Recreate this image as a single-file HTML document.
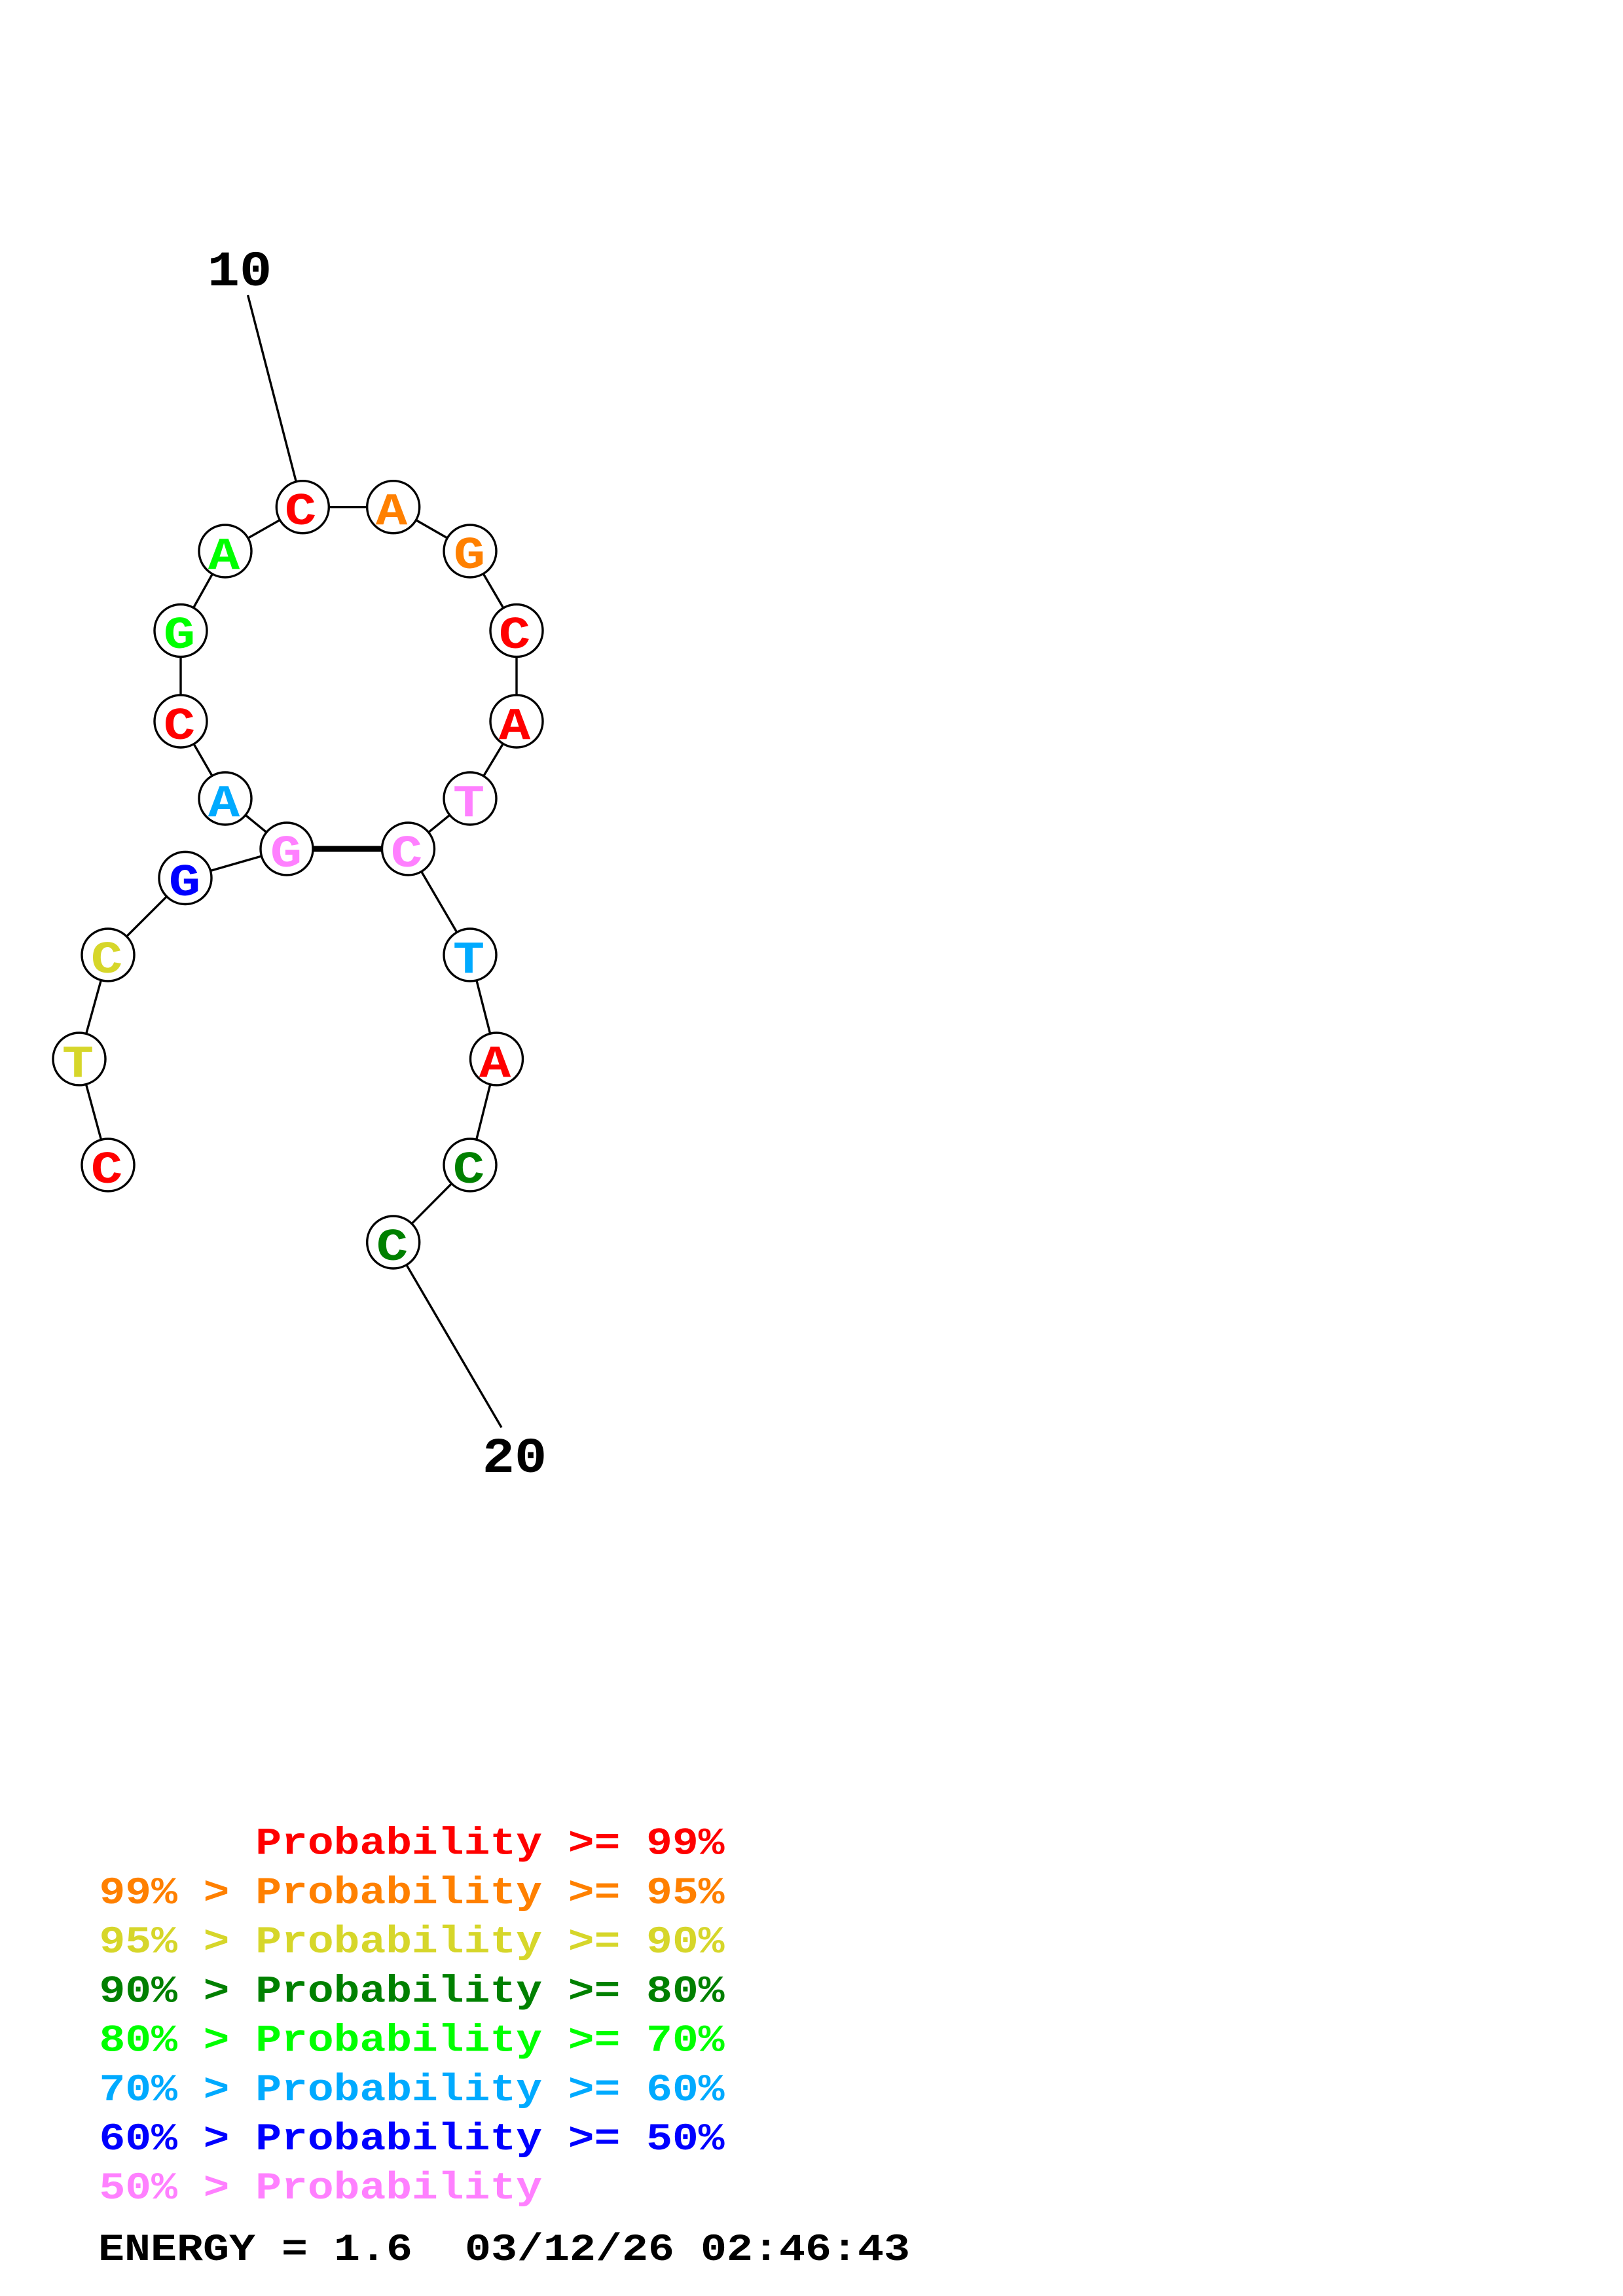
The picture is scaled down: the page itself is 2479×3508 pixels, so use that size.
<!DOCTYPE html>
<html>
<head>
<meta charset="utf-8">
<style>
html,body{margin:0;padding:0;background:#fff}
svg{display:block}
text{font-family:"Liberation Mono",monospace;font-weight:bold}
.n{font-size:70px;text-anchor:middle}
.l{font-size:67px;white-space:pre}
.d{font-size:82px;text-anchor:middle;fill:#000}
</style>
</head>
<body>
<svg xmlns="http://www.w3.org/2000/svg" width="2479" height="3508" viewBox="0 0 2479 3508">
<rect width="2479" height="3508" fill="#fff"/>
<g stroke="#000" stroke-width="3.4" fill="none">
<line x1="378.6" y1="451" x2="462.3" y2="774.7"/>
<polyline points="462.3,774.7 600.7,774.7 718,842 789,963.5 789,1102 718,1220 623.5,1297 718,1459 758.5,1618 718,1780 600.7,1898 766,2181"/>
<polyline points="462.3,774.7 344,842 276,963.5 276,1102 344,1220 438,1297 283,1341.5 165,1459 121,1618 165,1780"/>
<line x1="438" y1="1297" x2="623.5" y2="1297" stroke-width="9"/>
</g>
<g fill="#fff" stroke="#000" stroke-width="3.4">
<circle cx="462.3" cy="774.7" r="40"/><circle cx="600.7" cy="774.7" r="40"/><circle cx="718" cy="842" r="40"/>
<circle cx="789" cy="963.5" r="40"/><circle cx="789" cy="1102" r="40"/><circle cx="718" cy="1220" r="40"/>
<circle cx="623.5" cy="1297" r="40"/><circle cx="718" cy="1459" r="40"/><circle cx="758.5" cy="1618" r="40"/>
<circle cx="718" cy="1780" r="40"/><circle cx="600.7" cy="1898" r="40"/><circle cx="344" cy="842" r="40"/>
<circle cx="276" cy="963.5" r="40"/><circle cx="276" cy="1102" r="40"/><circle cx="344" cy="1220" r="40"/>
<circle cx="438" cy="1297" r="40"/><circle cx="283" cy="1341.5" r="40"/><circle cx="165" cy="1459" r="40"/>
<circle cx="121" cy="1618" r="40"/><circle cx="165" cy="1780" r="40"/>
</g>
<g class="nodes">
<text class="n" fill="#ff0000" transform="translate(459,801) scale(1.15,1)">C</text>
<text class="n" fill="#ff8000" transform="translate(598,801) scale(1.15,1)">A</text>
<text class="n" fill="#ff8000" transform="translate(717,868) scale(1.15,1)">G</text>
<text class="n" fill="#ff0000" transform="translate(786,990) scale(1.15,1)">C</text>
<text class="n" fill="#ff0000" transform="translate(786,1129) scale(1.15,1)">A</text>
<text class="n" fill="#ff80ff" transform="translate(716,1247) scale(1.15,1)">T</text>
<text class="n" fill="#ff80ff" transform="translate(621,1324) scale(1.15,1)">C</text>
<text class="n" fill="#00aaff" transform="translate(716,1486) scale(1.15,1)">T</text>
<text class="n" fill="#ff0000" transform="translate(756,1645) scale(1.15,1)">A</text>
<text class="n" fill="#008000" transform="translate(716,1807) scale(1.15,1)">C</text>
<text class="n" fill="#008000" transform="translate(599,1925) scale(1.15,1)">C</text>
<text class="n" fill="#00ff00" transform="translate(342,869) scale(1.15,1)">A</text>
<text class="n" fill="#00ff00" transform="translate(274,990) scale(1.15,1)">G</text>
<text class="n" fill="#ff0000" transform="translate(274,1129) scale(1.15,1)">C</text>
<text class="n" fill="#00aaff" transform="translate(342,1247) scale(1.15,1)">A</text>
<text class="n" fill="#ff80ff" transform="translate(437,1324) scale(1.15,1)">G</text>
<text class="n" fill="#0000ff" transform="translate(282,1368) scale(1.15,1)">G</text>
<text class="n" fill="#d6d62a" transform="translate(163,1486) scale(1.15,1)">C</text>
<text class="n" fill="#d6d62a" transform="translate(119,1645) scale(1.15,1)">T</text>
<text class="n" fill="#ff0000" transform="translate(163,1807) scale(1.15,1)">C</text>
</g>
<text class="d" transform="translate(366,436) scale(1,.93)">10</text>
<text class="d" transform="translate(786,2249) scale(1,.93)">20</text>
<g>
<text class="l" xml:space="preserve" fill="#ff0000" transform="translate(151.5,2832.7) scale(.99,.87)">      Probability &gt;= 99%</text>
<text class="l" xml:space="preserve" fill="#ff8000" transform="translate(151.5,2908) scale(.99,.87)">99% &gt; Probability &gt;= 95%</text>
<text class="l" xml:space="preserve" fill="#d6d62a" transform="translate(151.5,2983) scale(.99,.87)">95% &gt; Probability &gt;= 90%</text>
<text class="l" xml:space="preserve" fill="#008000" transform="translate(151.5,3058.5) scale(.99,.87)">90% &gt; Probability &gt;= 80%</text>
<text class="l" xml:space="preserve" fill="#00ff00" transform="translate(151.5,3133.7) scale(.99,.87)">80% &gt; Probability &gt;= 70%</text>
<text class="l" xml:space="preserve" fill="#00aaff" transform="translate(151.5,3209) scale(.99,.87)">70% &gt; Probability &gt;= 60%</text>
<text class="l" xml:space="preserve" fill="#0000ff" transform="translate(151.5,3284) scale(.99,.87)">60% &gt; Probability &gt;= 50%</text>
<text class="l" xml:space="preserve" fill="#ff80ff" transform="translate(151.5,3359) scale(.99,.87)">50% &gt; Probability</text>
<text class="l" xml:space="preserve" fill="#000" transform="translate(150,3453) scale(.995,.87)">ENERGY = 1.6  03/12/26 02:46:43</text>
</g>
</svg>
</body>
</html>
